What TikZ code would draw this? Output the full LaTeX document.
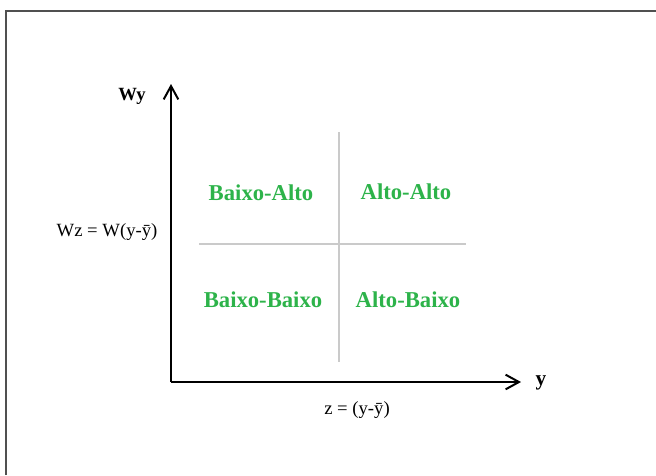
\documentclass[tikz,border=0pt]{standalone}
\usepackage{xcolor}
\usepackage{fontspec}
\setmainfont{Liberation Serif}
\usepackage{tikz}
\usetikzlibrary{positioning,arrows.meta}
\definecolor{quadGreen}{HTML}{2DB34A}
\definecolor{quadGray}{HTML}{CACACA}
\definecolor{frameGray}{HTML}{505050}
\tikzset{
  axis/.style={-{Straight Barb[length=10pt,width=11pt,line width=1.5pt]}, line width=1.6pt, black},
  divider/.style={draw=quadGray, line width=1.4pt},
  quadLabel/.style={font=\fontsize{17}{20}\selectfont\bfseries, text=quadGreen, inner sep=1pt},
  axisLabel/.style={font=\fontsize{14}{17}\selectfont, inner sep=1pt},
  axisName/.style={font=\fontsize{14}{17}\selectfont\bfseries, inner sep=1pt}
}

\begin{document}
\begin{tikzpicture}[x=0.75pt, y=-0.75pt]
  \useasboundingbox (0,0) rectangle (656,475);
  % frame
  \draw[frameGray, line width=1.5pt] (5.5,475) -- (5.5,10.5) -- (660,10.5);
  % axes
  \coordinate (origin) at (171,382);
  \coordinate (yTip) at (171,84);
  \coordinate (xTip) at (521,382);
  \draw[axis] (origin) -- (yTip);
  \draw[axis] (origin) -- (xTip);
  % quadrant dividers
  \coordinate (vTop) at (339,132);
  \coordinate (vBot) at (339,362);
  \coordinate (hLeft) at (199,244);
  \coordinate (hRight) at (466,244);
  \draw[divider] (vTop) -- (vBot);
  \draw[divider] (hLeft) -- (hRight);
  % labels
  \node[axisName] (wy) at (132,96) {Wy};
  \node[axisName, font=\fontsize{16}{19}\selectfont\bfseries] (yname) at (541,383) {y};
  \node[axisLabel] (wz) at (107,232) {Wz = W(y-ȳ)};
  \node[axisLabel] (z) at (357,410) {z = (y-ȳ)};
  \node[quadLabel] (ba) at (261,193) {Baixo-Alto};
  \node[quadLabel] (aa) at (406,192) {Alto-Alto};
  \node[quadLabel] (bb) at (263,300) {Baixo-Baixo};
  \node[quadLabel] (ab) at (408,300) {Alto-Baixo};
\end{tikzpicture}
\end{document}
